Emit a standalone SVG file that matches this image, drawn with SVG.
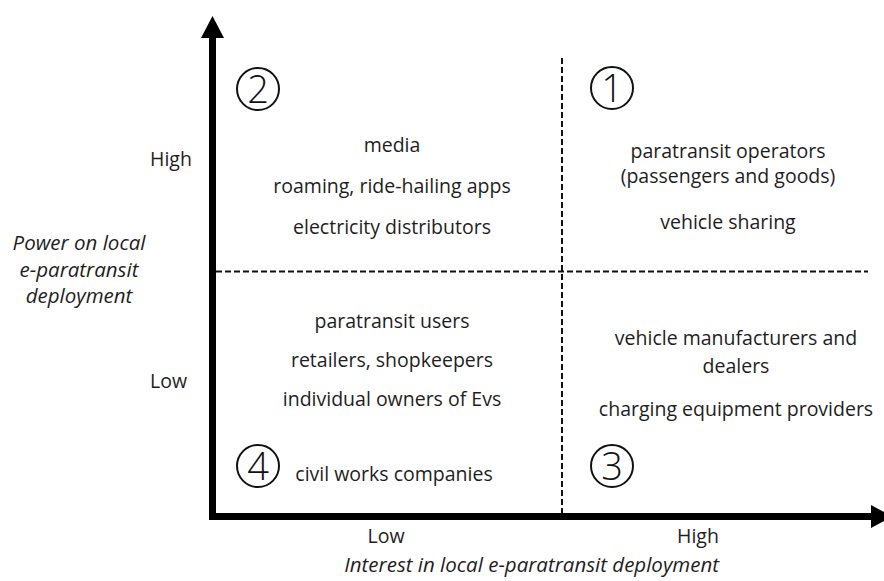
<svg xmlns="http://www.w3.org/2000/svg" width="884" height="581" viewBox="0 0 884 581">
  <style>
    .lbl { font-family: "Open Sans", "Liberation Sans", sans-serif; font-size: 19.5px; fill: #1e1e1e; }
    .mid { text-anchor: middle; }
    .ital { font-style: italic; font-size: 20.5px; }
    .num { font-family: "Open Sans", "Liberation Sans", sans-serif; font-size: 38px; font-weight: 300; fill: #111; text-anchor: middle; }
    .ring { fill: none; stroke: #111; stroke-width: 2; }
    .divider { stroke: #111; stroke-width: 2; stroke-dasharray: 6 3; fill: none; }
    .axis { fill: #000; }
  </style>
  <rect width="884" height="581" fill="#fff"/>

  <!-- axes -->
  <g id="axes">
    <rect class="axis" x="209" y="36" width="7" height="484"/>
    <polygon class="axis" points="212.5,16 201,38 224,38"/>
    <rect class="axis" x="209" y="513" width="663" height="7"/>
    <polygon class="axis" points="892,516.5 871,505 871,528"/>
  </g>

  <!-- quadrant dividers -->
  <g id="connectors">
    <line class="divider" x1="562" y1="58" x2="562" y2="513"/>
    <line class="divider" x1="216" y1="271.5" x2="868" y2="271.5"/>
  </g>

  <!-- axis labels -->
  <g id="y-axis-labels">
    <text class="lbl" x="150" y="166">High</text>
    <text class="lbl" x="150" y="388">Low</text>
    <text class="lbl ital mid" x="79" y="250">Power on local</text>
    <text class="lbl ital mid" x="79" y="277">e-paratransit</text>
    <text class="lbl ital mid" x="79" y="303">deployment</text>
  </g>
  <g id="x-axis-labels">
    <text class="lbl mid" x="386" y="543">Low</text>
    <text class="lbl mid" x="698" y="543">High</text>
    <text class="lbl ital" x="719" y="572" text-anchor="end">Interest in local e-paratransit deployment</text>
  </g>

  <!-- quadrant 2: high power, low interest -->
  <g id="quadrant-2">
    <circle class="ring" cx="258" cy="89" r="21"/>
    <text class="num" x="258" y="103">2</text>
    <text class="lbl mid" x="392" y="152">media</text>
    <text class="lbl mid" x="392" y="193">roaming, ride-hailing apps</text>
    <text class="lbl mid" x="392" y="234">electricity distributors</text>
  </g>

  <!-- quadrant 1: high power, high interest -->
  <g id="quadrant-1">
    <circle class="ring" cx="612" cy="88" r="21"/>
    <text class="num" x="612" y="102">1</text>
    <text class="lbl mid" x="728" y="158">paratransit operators</text>
    <text class="lbl mid" x="728" y="183">(passengers and goods)</text>
    <text class="lbl mid" x="728" y="229">vehicle sharing</text>
  </g>

  <!-- quadrant 4: low power, low interest -->
  <g id="quadrant-4">
    <circle class="ring" cx="258" cy="466" r="21"/>
    <text class="num" x="258" y="480">4</text>
    <text class="lbl mid" x="392" y="328">paratransit users</text>
    <text class="lbl mid" x="392" y="367">retailers, shopkeepers</text>
    <text class="lbl mid" x="392" y="406">individual owners of Evs</text>
    <text class="lbl mid" x="394" y="481">civil works companies</text>
  </g>

  <!-- quadrant 3: low power, high interest -->
  <g id="quadrant-3">
    <circle class="ring" cx="612" cy="466" r="21"/>
    <text class="num" x="612" y="480">3</text>
    <text class="lbl mid" x="736" y="345">vehicle manufacturers and</text>
    <text class="lbl mid" x="736" y="373">dealers</text>
    <text class="lbl mid" x="736" y="416">charging equipment providers</text>
  </g>
</svg>
